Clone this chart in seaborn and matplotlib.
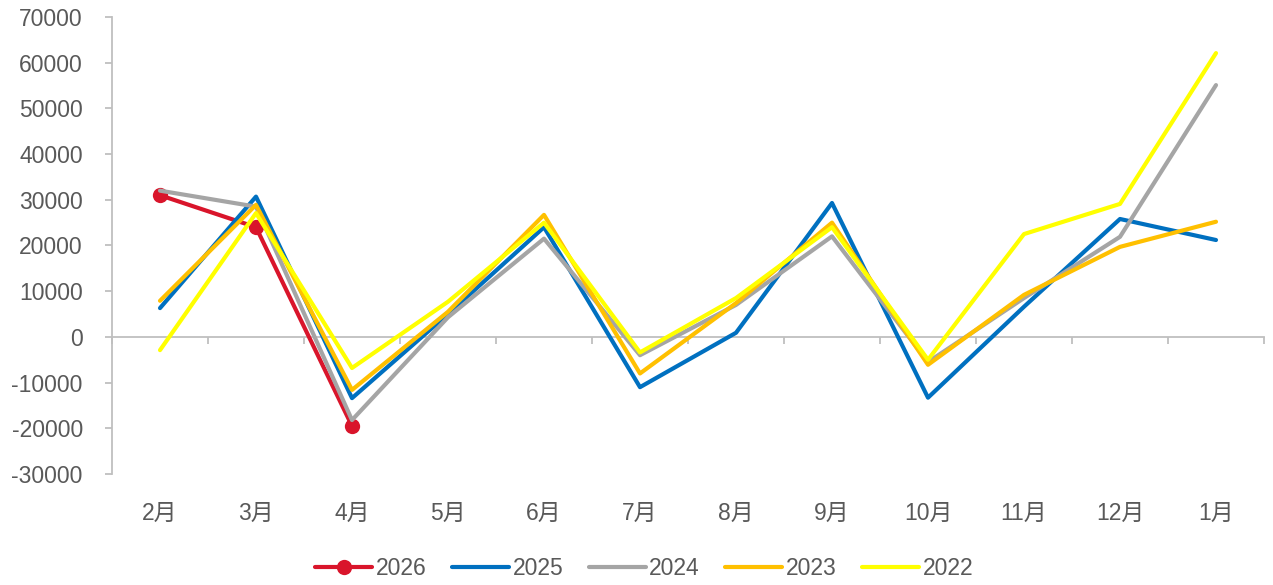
import numpy as np
import pandas as pd
import matplotlib
matplotlib.use("Agg")
import matplotlib.pyplot as plt
import seaborn as sns

# ---- data ----
months = ["2月", "3月", "4月", "5月", "6月", "7月", "8月", "9月", "10月", "11月", "12月", "1月"]

y2026 = [31000, 24000, -19500]
y2025 = [6300, 30700, -13400, 5000, 24000, -11000, 900, 29300, -13300, 6600, 25800, 21200]
y2024 = [32000, 28500, -18200, 4300, 21500, -4000, 7000, 22000, -5500, 8500, 21900, 55100]
y2023 = [7900, 28900, -11600, 5500, 26700, -8000, 7400, 25000, -6100, 9200, 19700, 25200]
y2022 = [-2900, 27100, -6800, 7700, 25000, -3400, 8500, 24000, -5000, 22500, 29100, 62100]

series = {"2026": y2026, "2025": y2025, "2024": y2024, "2023": y2023, "2022": y2022}
colors = {"2026": "#D9152B", "2025": "#0070C0", "2024": "#A5A5A5", "2023": "#FFC000", "2022": "#FFFF00"}

sns.set_theme(style="white")
plt.rcParams["font.family"] = ["Liberation Sans", "Noto Sans CJK SC"]
plt.rcParams["axes.unicode_minus"] = False

fig = plt.figure(figsize=(12.73, 5.85), dpi=100)
ax = fig.add_axes([112 / 1273, 1 - 474 / 585, (1264 - 112) / 1273, (474 - 17) / 585])

for name, vals in series.items():
    df = pd.DataFrame({"x": np.arange(len(vals)), "y": vals})
    if name == "2026":
        sns.lineplot(data=df, x="x", y="y", ax=ax, color=colors[name], linewidth=3,
                     marker="o", markersize=11, markeredgewidth=0, label=name,
                     solid_capstyle="round")
    else:
        sns.lineplot(data=df, x="x", y="y", ax=ax, color=colors[name], linewidth=3,
                     label=name, solid_capstyle="round")

ax.set_xlim(-0.5, len(months) - 0.5)
ax.set_ylim(-30000, 70000)
ax.set_yticks(np.arange(-30000, 70001, 10000))
ax.set_xticks(np.arange(len(months)))
ax.set_xticklabels(months)
ax.set_xlabel("")
ax.set_ylabel("")

txt = "#595959"
grey = "#BFBFBF"
fs = 16.5
ax.tick_params(axis="x", length=0, pad=20, labelsize=fs, labelcolor=txt)
ax.tick_params(axis="y", length=5, width=1.3, color=grey, direction="out", pad=16,
               labelsize=fs, labelcolor=txt, left=True)
for s in ["top", "right", "bottom"]:
    ax.spines[s].set_visible(False)
ax.spines["left"].set_color(grey)
ax.spines["left"].set_linewidth(1.3)

# zero axis with tick marks between categories
zero = ax.secondary_xaxis(0.3)
zero.set_xticks(np.arange(-0.5, len(months), 1.0))
zero.set_xticklabels([])
zero.tick_params(length=5, width=1.3, color=grey, direction="out")
zero.spines["bottom"].set_color(grey)
zero.spines["bottom"].set_linewidth(1.3)

ax.get_legend().remove()
handles, labels = ax.get_legend_handles_labels()
fig.legend(handles, labels, loc="center", bbox_to_anchor=(0.506, 0.029), ncol=5,
           frameon=False, fontsize=fs, handlelength=2.5, handletextpad=0.15,
           columnspacing=1.1, labelcolor=txt)

fig.savefig("out.png", dpi=100)
